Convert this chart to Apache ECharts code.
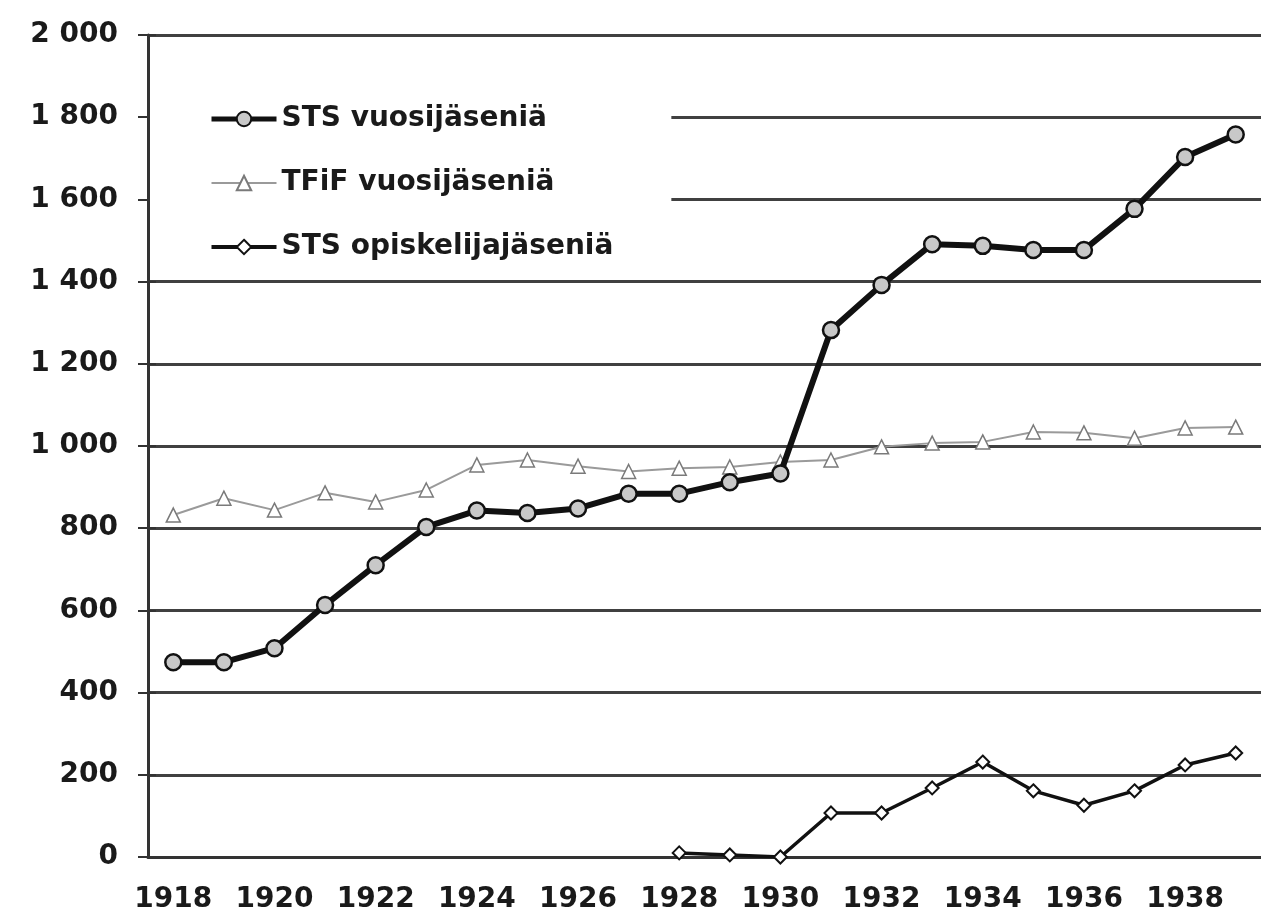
<!DOCTYPE html>
<html>
<head>
<meta charset="utf-8">
<script src="https://cdn.jsdelivr.net/npm/echarts@6/dist/echarts.min.js"></script>
<style>
html,body{margin:0;padding:0;background:#fff;}
#chart{width:1261px;height:914px;}
</style>
</head>
<body>
<div id="chart"></div>
<script>
const years = ['1918','1919','1920','1921','1922','1923','1924','1925','1926','1927','1928','1929','1930','1931','1932','1933','1934','1935','1936','1937','1938','1939'];
const stsMembers = [474,474,508,613,710,803,843,837,848,884,884,912,933,1282,1392,1491,1487,1477,1477,1577,1703,1758];
const tfifMembers = [832,873,844,886,864,893,954,966,951,938,946,949,961,966,998,1007,1010,1034,1032,1019,1044,1046];
const stsStudents = [null,null,null,null,null,null,null,null,null,null,10,5,0,107,107,168,231,161,126,161,224,253];
const seriesNames = ['STS vuosijäseniä','TFiF vuosijäseniä','STS opiskelijajäseniä'];
const yMin = 0, yMax = 2000, yStep = 200;

const FONT = '"DejaVu Sans", Verdana, sans-serif';
const chart = echarts.init(document.getElementById('chart'), null, {renderer:'canvas'});
const fmt = v => {
  const s = String(v);
  return s.length > 3 ? s.slice(0, s.length-3) + ' ' + s.slice(-3) : s;
};
chart.setOption({
  animation: false,
  backgroundColor: '#ffffff',
  grid: {left: 148, top: 35, width: 1121, height: 822, containLabel: false},
  legend: {
    orient: 'vertical',
    left: 150, top: 84,
    padding: [20, 58, 10, 59],
    backgroundColor: '#ffffff',
    itemWidth: 65, itemHeight: 18, itemGap: 34,
    data: [
      {name: seriesNames[0], lineStyle: {width: 5, color: '#111111'}},
      {name: seriesNames[1], lineStyle: {width: 2, color: '#9a9a9a'}},
      {name: seriesNames[2], lineStyle: {width: 4, color: '#111111'}}
    ],
    textStyle: {fontFamily: FONT, fontWeight: 'bold', fontSize: 28, lineHeight: 30, color: '#1a1a1a'}
  },
  xAxis: {
    type: 'category',
    data: years,
    boundaryGap: true,
    axisLine: {lineStyle: {color: '#333333', width: 3}},
    axisTick: {interval: 0, length: 11, lineStyle: {color: '#333333', width: 2}},
    axisLabel: {interval: 1, margin: 29, fontFamily: FONT, fontWeight: 'bold', fontSize: 28, color: '#1a1a1a'},
    splitLine: {show: false}
  },
  yAxis: [{
    type: 'value',
    min: yMin, max: yMax, interval: yStep,
    axisLine: {show: true, lineStyle: {color: '#333333', width: 3}},
    axisTick: {show: true, length: 10, lineStyle: {color: '#333333', width: 2}},
    axisLabel: {margin: 30, formatter: fmt, fontFamily: FONT, fontWeight: 'bold', fontSize: 28, color: '#1a1a1a'},
    splitLine: {show: true, lineStyle: {color: '#404040', width: 3}}
  }, {
    type: 'value', position: 'left',
    min: yMin, max: yMax, interval: yStep,
    axisLine: {show: false},
    axisTick: {show: true, inside: true, length: 8, lineStyle: {color: '#333333', width: 2}},
    axisLabel: {show: false},
    splitLine: {show: false}
  }],
  series: [
    {
      name: seriesNames[1], type: 'line', data: tfifMembers, z: 3,
      symbol: 'triangle', symbolSize: 14,
      lineStyle: {color: '#9a9a9a', width: 2},
      itemStyle: {color: '#ffffff', borderColor: '#7a7a7a', borderWidth: 1.5}
    },
    {
      name: seriesNames[2], type: 'line', data: stsStudents, z: 4,
      symbol: 'diamond', symbolSize: 13,
      lineStyle: {color: '#111111', width: 3.5},
      itemStyle: {color: '#ffffff', borderColor: '#111111', borderWidth: 2}
    },
    {
      name: seriesNames[0], type: 'line', data: stsMembers, z: 5,
      symbol: 'circle', symbolSize: 16,
      lineStyle: {color: '#111111', width: 6},
      itemStyle: {color: '#c8c8c8', borderColor: '#111111', borderWidth: 2.5}
    }
  ]
});
</script>
</body>
</html>
